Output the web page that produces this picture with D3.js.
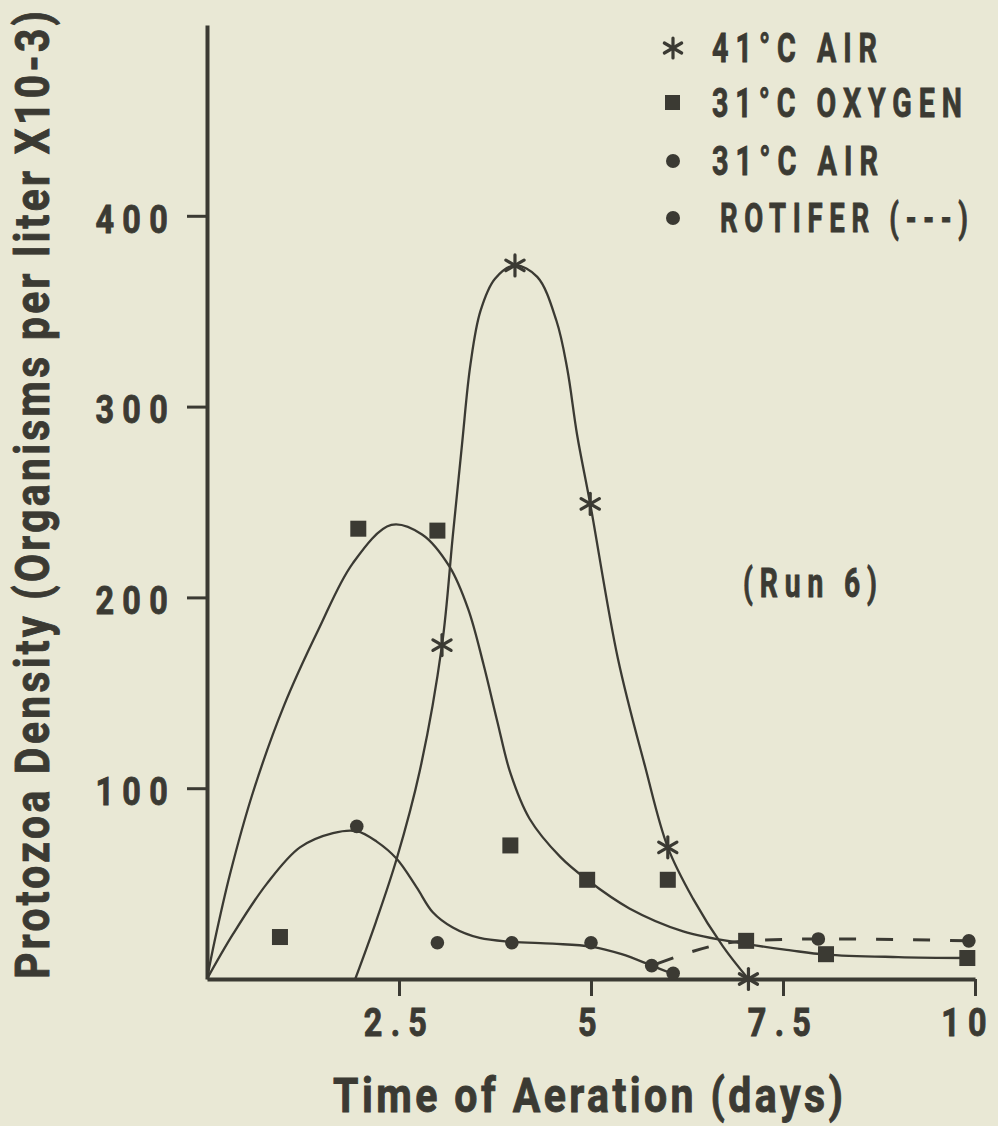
<!DOCTYPE html>
<html>
<head>
<meta charset="utf-8">
<script src="https://cdn.jsdelivr.net/npm/d3@7"></script>
<style>
  html, body { margin: 0; padding: 0; background: #e9e8d5; }
  svg { display: block; }
  text { font-family: Roboto, 'DejaVu Sans Condensed', sans-serif; font-weight: bold; fill: #3b3a33; stroke: #3b3a33; stroke-width: 0.9px; }
</style>
</head>
<body>
<div class="chart"></div>
<script>
// measured points (day, density x10-3)
const air41 = [[3.06, 175], [4.01, 374], [4.99, 249], [6.0, 69], [7.05, 0]];
const oxy31 = [[0.95, 22], [1.97, 236], [3.0, 235], [3.95, 70], [4.95, 52], [6.0, 52], [7.02, 20], [8.06, 13], [9.9, 11]];
const air31 = [[1.95, 80], [3.0, 19], [3.97, 19], [5.0, 19], [5.79, 7], [6.07, 3]];
const rotifer = [[5.79, 7], [7.02, 20], [7.96, 21], [9.92, 20]];

// hand fitted curves as drawn in the figure
const air41Fit = [[1.93, 0], [2.2, 30], [2.47, 63], [2.77, 109], [3.06, 175], [3.2, 232], [3.32, 280], [3.43, 322],
  [3.56, 350], [3.75, 367], [4.01, 374], [4.3, 368], [4.55, 345], [4.69, 320], [4.82, 285], [4.99, 249],
  [5.35, 168], [5.7, 112], [6.0, 69], [6.33, 42], [6.72, 17], [7.05, 0]];
const oxy31Fit = [[0, 0], [0.1, 20], [0.3, 55], [0.6, 98], [1.0, 143], [1.45, 183], [1.9, 218], [2.4, 238],
  [2.8, 233], [3.16, 216], [3.4, 194], [3.6, 165], [3.78, 135], [3.95, 108], [4.2, 84], [4.6, 64], [4.95, 52],
  [5.5, 37], [6.2, 25], [7.0, 18.5], [7.6, 15], [8.06, 12.8], [9.0, 11.5], [9.9, 11]];
const air31Fit = [[0, 0], [0.34, 23.6], [0.78, 50], [1.21, 69], [1.64, 76.5], [1.95, 77.5], [2.21, 72], [2.47, 63],
  [2.73, 48], [2.94, 35], [3.2, 27], [3.55, 21.5], [3.97, 19.5], [4.5, 18.5], [5.0, 17], [5.4, 13], [5.79, 7], [6.07, 2.6]];

const xTicks = [2.5, 5, 7.5, 10];
const yTicks = [100, 200, 300, 400];
const legendLabels = ['41°C AIR', '31°C OXYGEN', '31°C AIR', 'ROTIFER (---)'];
const legendSymbols = ['star', 'square', 'circle', 'circle'];

const ink = '#3b3a33';
const width = 998, height = 1126;

let svg = d3.select('.chart').append('svg')
  .attr('width', width)
  .attr('height', height);

let x = d3.scaleLinear().domain([0, 10]).range([207, 975]);
let y = d3.scaleLinear().domain([0, 500]).range([979, 25]);

// narrow, letter spaced lettering like the typed figure
let tickSx = 0.83, tickLs = 10;

let yAxis = svg.append('g')
  .attr('transform', 'translate(207,0)')
  .call(d3.axisLeft(y).tickValues(yTicks).tickSize(20).tickSizeOuter(0));
let xAxis = svg.append('g')
  .attr('transform', 'translate(0,979)')
  .call(d3.axisBottom(x).tickValues(xTicks).tickSize(17).tickSizeOuter(0).tickPadding(12)
    .tickFormat(d => String(d)));

[xAxis, yAxis].forEach(g => {
  g.select('.domain').attr('stroke', ink).attr('stroke-width', 4);
  g.selectAll('.tick line').attr('stroke', ink).attr('stroke-width', 3);
  g.selectAll('.tick text')
    .style('font-size', '39px')
    .style('letter-spacing', tickLs + 'px')
    .attr('fill', ink);
});
yAxis.selectAll('.tick text')
  .attr('x', -31 / tickSx)
  .attr('dy', '0.42em')
  .attr('transform', `scale(${tickSx},1)`);
xAxis.selectAll('.tick text')
  .attr('transform', `scale(${tickSx},1)`);
// last label sits against the page edge
xAxis.selectAll('.tick text').filter(d => d === 10).attr('dx', -9);

// text squeezed to a given width
function fitText(str, opts) {
  let t = svg.append('text')
    .style('font-size', opts.size + 'px')
    .style('letter-spacing', opts.ls + 'px')
    .attr('text-anchor', opts.anchor || 'start')
    .text(str);
  let w = t.node().getComputedTextLength() - opts.ls;
  let s = opts.width / w;
  if (opts.anchor === 'middle') t.attr('dx', opts.ls / 2);
  t.attr('transform', `translate(${opts.x},${opts.y})` + (opts.rotate ? ` rotate(${opts.rotate})` : '') + ` scale(${s},1)`);
  return t;
}

fitText('Time of Aeration (days)', { x: 588, y: 1112, width: 510, size: 48, ls: 4, anchor: 'middle' });
fitText('Protozoa Density (Organisms per liter X10-3)', { x: 49, y: 495, width: 968, size: 48, ls: 4, anchor: 'middle', rotate: -90 });
fitText('(Run 6)', { x: 743, y: 597, width: 134, size: 41, ls: 10 });

// fitted curves
let line = d3.line()
  .x(d => x(d[0]))
  .y(d => y(d[1]))
  .curve(d3.curveCatmullRom.alpha(0.5));

[air41Fit, oxy31Fit, air31Fit].forEach(fit => {
  svg.append('path')
    .datum(fit)
    .attr('d', line)
    .attr('fill', 'none')
    .attr('stroke', ink)
    .attr('stroke-width', 2.3);
});

svg.append('path')
  .datum(rotifer)
  .attr('d', d3.line().x(d => x(d[0])).y(d => y(d[1])).curve(d3.curveMonotoneX))
  .attr('fill', 'none')
  .attr('stroke', ink)
  .attr('stroke-width', 3)
  .attr('stroke-dasharray', '17,20')
  .attr('stroke-dashoffset', -6);

// markers
function star(g, cx, cy, r) {
  [90, 30, -30].forEach(deg => {
    let t = deg * Math.PI / 180;
    g.append('line')
      .attr('x1', cx - r * Math.cos(t)).attr('y1', cy - r * Math.sin(t))
      .attr('x2', cx + r * Math.cos(t)).attr('y2', cy + r * Math.sin(t))
      .attr('stroke', ink).attr('stroke-width', 3.2).attr('stroke-linecap', 'round');
  });
}

let marks = svg.append('g');

marks.selectAll('.c31').data(air31.concat(rotifer.filter(d => d[0] > 7.5)))
  .enter().append('circle')
  .attr('cx', d => x(d[0])).attr('cy', d => y(d[1]))
  .attr('r', 6.8)
  .attr('fill', ink);

marks.selectAll('.sq').data(oxy31)
  .enter().append('rect')
  .attr('x', d => x(d[0]) - 8).attr('y', d => y(d[1]) - 8)
  .attr('width', 16).attr('height', 16)
  .attr('fill', ink);

air41.forEach(d => star(marks, x(d[0]), y(d[1]), 10.5));

// legend
let legend = svg.append('g');
let legendY = [62, 117, 175, 232];
let legendW = [165, 250, 166, 248];
legendLabels.forEach((lab, i) => {
  let cy = legendY[i] - 14;
  if (legendSymbols[i] === 'star') star(legend, 673, cy, 10);
  else if (legendSymbols[i] === 'square') legend.append('rect').attr('x', 665).attr('y', cy - 8).attr('width', 15).attr('height', 15).attr('fill', ink);
  else legend.append('circle').attr('cx', 673).attr('cy', cy).attr('r', 7).attr('fill', ink);
  fitText(lab, { x: i === 3 ? 720 : 712, y: legendY[i], width: legendW[i], size: 41, ls: 10 });
});
</script>
</body>
</html>
